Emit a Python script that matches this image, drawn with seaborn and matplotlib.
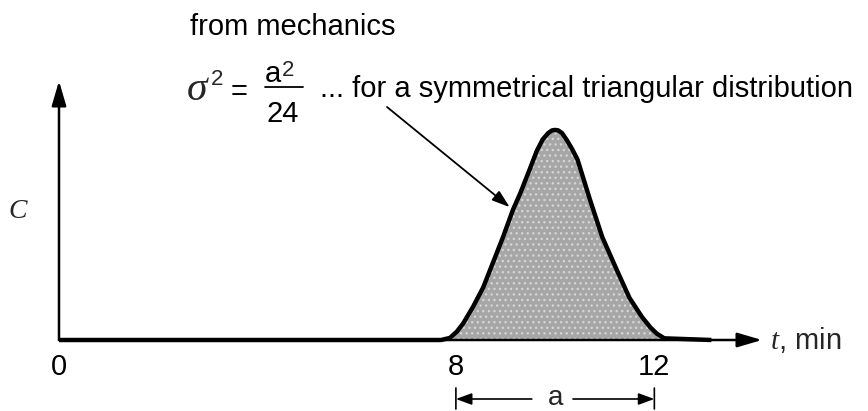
import matplotlib
matplotlib.use("Agg")
import matplotlib.pyplot as plt
from matplotlib.lines import Line2D
import pandas as pd
import seaborn as sns

# Elution curve: time (min) against concentration relative to the peak
t_min = [0.0, 7.7, 7.88, 8.02, 8.15, 8.35, 8.55, 8.75, 8.95, 9.15, 9.3, 9.5,
         9.63, 9.75, 9.86, 9.94, 10.0, 10.06, 10.14, 10.24, 10.34, 10.45,
         10.7, 10.95, 11.25, 11.5, 11.75, 11.92, 12.05, 12.2, 13.15]
conc = [0.0, 0.0, 0.01, 0.04, 0.08, 0.16, 0.25, 0.37, 0.49, 0.62, 0.70, 0.82,
        0.90, 0.955, 0.985, 0.998, 1.0, 0.998, 0.985, 0.95, 0.91, 0.86,
        0.67, 0.49, 0.33, 0.20, 0.11, 0.06, 0.03, 0.008, 0.0]
tick_pos = [0, 8, 12]
tick_labels = ["0", "8", "12"]
span_start, span_end = 8, 12
arrow_target = 9  # index of the curve point the note arrow touches

sns.set_style("white")
plt.rcParams["font.family"] = ["Liberation Sans", "DejaVu Sans"]
plt.rcParams["mathtext.fontset"] = "custom"
plt.rcParams["mathtext.it"] = "Liberation Serif:italic"
plt.rcParams["mathtext.rm"] = "Liberation Sans"
plt.rcParams["hatch.linewidth"] = 1.0

W, H = 868, 411
fig = plt.figure(figsize=(W / 100, H / 100), dpi=100)
ax = fig.add_axes([59 / W, 71 / H, 703 / W, 259 / H])
ax.set_xlim(0, 14.17)
ax.set_ylim(0, 1.233)

df = pd.DataFrame({"t": t_min, "C": conc})
ax.fill_between(df["t"], df["C"], facecolor="#a6a6a6", edgecolor="#d4d4d4",
                hatch="...", linewidth=0, clip_on=False, zorder=2)
sns.lineplot(data=df, x="t", y="C", ax=ax, color="black", linewidth=3.2,
             sort=False, zorder=3)
for ln in ax.lines:
    ln.set_clip_on(False)
    ln.set_solid_joinstyle("round")
    ln.set_solid_capstyle("butt")

for s in ax.spines.values():
    s.set_visible(False)

# axis arrows
arrow_kw = dict(arrowstyle="-|>,head_length=0.75,head_width=0.22",
                color="black", lw=1.8, mutation_scale=20, shrinkA=0, shrinkB=0)
ax.annotate("", xy=(1, 0), xytext=(0, 0), xycoords="axes fraction",
            arrowprops=arrow_kw)
ax.annotate("", xy=(0, 1), xytext=(0, 0), xycoords="axes fraction",
            arrowprops=arrow_kw)

ax.set_xticks(tick_pos, tick_labels)
ax.set_yticks([])
ax.tick_params(axis="x", direction="in", length=16, width=1.2, labelsize=21,
               pad=9, colors="black")
ax.set_xlabel("")
ax.set_ylabel("")

# axis names
ax.text(-0.058, 0.5, r"$C$", transform=ax.transAxes, fontsize=20,
        ha="center", va="center")
ax.text(1.011, 0.0, r"$t$, min", transform=ax.transAxes, fontsize=21,
        ha="left", va="center")


def fp(x, y):
    return x / W, 1 - y / H


txt = dict(fontsize=21, color="black", ha="left", va="baseline")
fig.text(*fp(190, 35), "from mechanics", **txt)
fig.text(*fp(186, 100), r"$\sigma$", fontsize=30, ha="left", va="baseline")
fig.text(*fp(211, 85), "2", fontsize=16, ha="left", va="baseline")
fig.text(*fp(231, 100), "=", **txt)
fig.text(*fp(265, 82), "a", **txt)
fig.text(*fp(282, 76), "2", fontsize=16, ha="left", va="baseline")
fig.add_artist(Line2D([265 / W, 303 / W], [1 - 87 / H, 1 - 87 / H],
                      color="black", lw=1.3))
fig.text(*fp(266, 122), "24", **txt)
fig.text(*fp(320, 97), "... for a symmetrical triangular distribution", **txt)

# note arrow pointing at the curve
ax.annotate("", xy=(t_min[arrow_target], conc[arrow_target]), xycoords="data",
            xytext=(387, H - 107), textcoords="figure pixels",
            arrowprops=dict(arrowstyle="-|>,head_length=0.6,head_width=0.2",
                            color="black", lw=1.3, mutation_scale=18,
                            shrinkA=0, shrinkB=3))

# dimension line for the base width a
yd = H - 399
bc = ("data", "figure pixels")
small = dict(arrowstyle="-|>,head_length=0.6,head_width=0.22", color="black",
             lw=1.2, mutation_scale=16, shrinkA=0, shrinkB=0)
ax.annotate("", xy=(span_start, yd), xycoords=bc, xytext=(9.53, yd),
            textcoords=bc, arrowprops=small)
ax.annotate("", xy=(span_end, yd), xycoords=bc, xytext=(10.36, yd),
            textcoords=bc, arrowprops=small)
for xb in (span_start, span_end):
    ax.annotate("", xy=(xb, H - 388), xycoords=bc, xytext=(xb, H - 409),
                textcoords=bc,
                arrowprops=dict(arrowstyle="-", color="black", lw=1.2,
                                shrinkA=0, shrinkB=0))
ax.annotate("a", xy=((span_start + span_end) / 2, H - 405), xycoords=bc,
            ha="center", va="baseline", fontsize=20)

fig.savefig("out.png", dpi=100)
